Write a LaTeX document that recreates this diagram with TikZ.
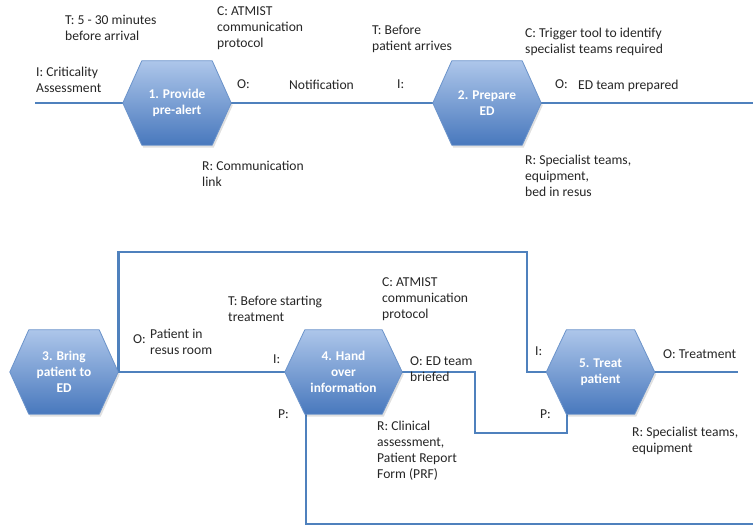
\documentclass[tikz,border=0pt]{standalone}
\usepackage{fontspec}
\setmainfont{Carlito}
\usetikzlibrary{backgrounds,calc}
\definecolor{flow}{HTML}{4F81BD}
\definecolor{hextop}{HTML}{ADC6EA}
\definecolor{hexbot}{HTML}{4878BD}
\definecolor{hexedge}{HTML}{6C94CB}
\definecolor{txt}{HTML}{262626}
\tikzset{
  lbl/.style={anchor=north west, inner sep=0pt, align=left, text=txt,
    font=\fontsize{13.6}{16}\selectfont},
  hexnode/.style={shape=rectangle, inner sep=0pt, minimum height=84pt,
    align=center, text=white, font=\bfseries\fontsize{13.4}{16}\selectfont},
  flowline/.style={draw=flow, line width=2.6pt},
  hexfill/.style={top color=hextop, bottom color=hexbot, draw=hexedge, line width=0.8pt, line join=round},
  hexshadow/.style={fill=black, fill opacity=0.12}
}
\newcommand{\hexpath}[2]{% name, inset
  \path[hexshadow] ($(#1.west)+(1.5,2.5)$) -- ($(#1.north west)+(#2+1.5,2.5)$) -- ($(#1.north east)+(-#2+1.5,2.5)$)
    -- ($(#1.east)+(1.5,2.5)$) -- ($(#1.south east)+(-#2+1.5,2.5)$) -- ($(#1.south west)+(#2+1.5,2.5)$) -- cycle;
  \path[hexfill] (#1.west) -- ($(#1.north west)+(#2,0)$) -- ($(#1.north east)+(-#2,0)$)
    -- (#1.east) -- ($(#1.south east)+(-#2,0)$) -- ($(#1.south west)+(#2,0)$) -- cycle;}
\begin{document}
\begin{tikzpicture}[x=1pt,y=-1pt]
\useasboundingbox (0,0) rectangle (753,526);

% hexagon nodes
\node[hexnode, minimum width=108pt] (h1) at (177,103) {1. Provide\\pre-alert};
\node[hexnode, minimum width=108pt] (h2) at (487,103) {2. Prepare\\ED};
\node[hexnode, minimum width=108pt] (h3) at (64,372) {3. Bring\\patient to\\ED};
\node[hexnode, minimum width=117pt] (h4) at (343.5,372) {4. Hand\\over\\information};
\node[hexnode, minimum width=108pt] (h5) at (600.5,372) {5. Treat\\patient};

% connector coordinates
\coordinate (s1) at (35,103);
\coordinate (e1) at (753,103);
\coordinate (k1) at (527,252);
\coordinate (k2) at (475,433);
\coordinate (k3) at (567,414);
\coordinate (k4) at ($(h4.south west)+(21,0)$);
\coordinate (k5) at (753,524);
\coordinate (e2) at (738,372);

\begin{scope}[on background layer]
  \fill[white] (0,0) rectangle (753,526);
  \draw[flowline] (s1) -- (h1.west);
  \draw[flowline] (h1.east) -- (h2.west);
  \draw[flowline] (h2.east) -- (e1);
  \draw[flowline] (h3.east) -- (h4.west);
  \draw[flowline, line join=miter] (h3.east) |- (k1) |- (h5.west);
  \draw[flowline, line join=miter] (h4.east) -| (k2) -| (k3);
  \draw[flowline, line join=miter] (k4) |- (k5);
  \draw[flowline] (h5.east) -- (e2);
  \hexpath{h1}{19}
  \hexpath{h2}{19}
  \hexpath{h3}{19}
  \hexpath{h4}{20}
  \hexpath{h5}{20}
\end{scope}

% top row labels
\node[lbl] (t1) at (65,14.5) {T: 5 - 30 minutes\\before arrival};
\node[lbl] (c1) at (217,6.5) {C: ATMIST\\communication\\protocol};
\node[lbl] (i1) at (36,66.5) {I: Criticality\\Assessment};
\node[lbl] (o1) at (237,79.5) {O:};
\node[lbl] (n1) at (289,79.5) {Notification};
\node[lbl] (r1) at (202,160.5) {R: Communication\\link};
\node[lbl] (t2) at (372,24.5) {T: Before\\patient arrives};
\node[lbl] (c2) at (525,27.5) {C: Trigger tool to identify\\specialist teams required};
\node[lbl] (i2) at (397,79.5) {I:};
\node[lbl] (o2) at (555,79.5) {O:};
\node[lbl] (n2) at (578,79.5) {ED team prepared};
\node[lbl] (r2) at (525,154.5) {R: Specialist teams,\\equipment,\\bed in resus};

% bottom row labels
\node[lbl] (o3) at (133,334.5) {O:};
\node[lbl] (n3) at (150,328.5) {Patient in\\resus room};
\node[lbl] (t4) at (228,295.5) {T: Before starting\\treatment};
\node[lbl] (i4) at (273,354.5) {I:};
\node[lbl] (p4) at (278,409.5) {P:};
\node[lbl] (c4) at (382,277.5) {C: ATMIST\\communication\\protocol};
\node[lbl] (o4) at (410,356.5) {O: ED team\\briefed};
\node[lbl] (r4) at (377,420.5) {R: Clinical\\assessment,\\Patient Report\\Form (PRF)};
\node[lbl] (i5) at (535,346.5) {I:};
\node[lbl] (p5) at (540,409.5) {P:};
\node[lbl] (o5) at (663,349.5) {O: Treatment};
\node[lbl] (r5) at (632,426.5) {R: Specialist teams,\\equipment};
\end{tikzpicture}
\end{document}
